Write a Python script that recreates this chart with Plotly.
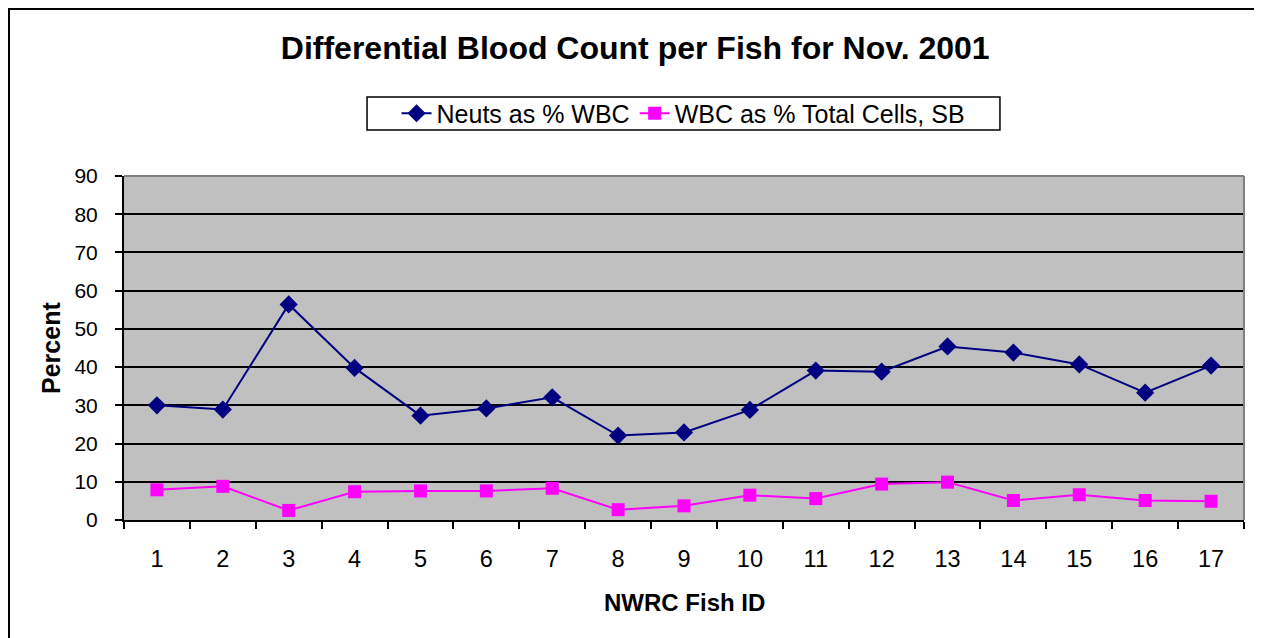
import plotly.graph_objects as go

# Fish IDs and the two series
fish_ids = [str(i) for i in range(1, 18)]
neuts_pct_wbc = [30.0, 28.9, 56.4, 39.8, 27.3, 29.2, 32.1, 22.1, 22.9, 28.8,
                 39.1, 38.8, 45.4, 43.8, 40.7, 33.3, 40.4]
wbc_pct_total = [7.9, 8.8, 2.5, 7.4, 7.6, 7.6, 8.3, 2.7, 3.7, 6.5,
                 5.6, 9.4, 9.9, 5.1, 6.6, 5.1, 4.9]

FONT = "Arial, Liberation Sans, sans-serif"

L, R, T, B = 116, 26, 168, 126
PW = 1262 - L - R
PH = 638 - T - B

fig = go.Figure()

fig.add_trace(go.Scatter(
    x=fish_ids, y=neuts_pct_wbc, mode="lines+markers",
    name="Neuts as % WBC",
    line=dict(color="#000080", width=2),
    marker=dict(symbol="diamond", size=14, color="#000080"),
))
fig.add_trace(go.Scatter(
    x=fish_ids, y=wbc_pct_total, mode="lines+markers",
    name="WBC as % Total Cells, SB",
    line=dict(color="#FF00FF", width=2),
    marker=dict(symbol="square", size=13, color="#FF00FF"),
))

fig.update_layout(
    width=1262, height=638,
    margin=dict(l=L, r=R, t=T, b=B),
    paper_bgcolor="white",
    plot_bgcolor="#C0C0C0",
    font=dict(family=FONT, size=21, color="black"),
    title=dict(text="<b>Differential Blood Count per Fish for Nov. 2001</b>",
               x=0.497, xanchor="center", y=0.937, yanchor="middle",
               font=dict(family=FONT, size=32, color="black")),
    showlegend=True,
    legend=dict(orientation="h", x=0.4996, xanchor="center",
                y=1.1817, yanchor="middle",
                borderwidth=0, bgcolor="rgba(0,0,0,0)",
                font=dict(family=FONT, size=25, color="black"),
                itemwidth=30, tracegroupgap=0),
    xaxis=dict(
        type="category", tickson="boundaries", range=[-0.5, 16.5],
        ticks="outside", ticklen=7, tickwidth=2, tickcolor="black",
        showline=True, linecolor="black", linewidth=2,
        showgrid=False, zeroline=False,
        ticklabelstandoff=17,
        tickfont=dict(family=FONT, size=23.5, color="black"),
    ),
    yaxis=dict(
        range=[0, 90], dtick=10,
        ticks="outside", ticklen=7, tickwidth=2, tickcolor="black",
        showline=True, linecolor="black", linewidth=2,
        showgrid=True, gridcolor="black", gridwidth=1.5,
        zeroline=False,
        ticklabelstandoff=13,
        tickfont=dict(family=FONT, size=21, color="black"),
    ),
    annotations=[
        dict(text="<b>NWRC Fish ID</b>", xref="paper", yref="paper",
             x=0.5, y=-0.241, xanchor="center", yanchor="middle",
             showarrow=False, font=dict(family=FONT, size=24, color="black")),
        dict(text="<b>Percent</b>", xref="paper", yref="paper",
             x=-0.0652, y=0.5, xanchor="center", yanchor="middle",
             textangle=-90, showarrow=False,
             font=dict(family=FONT, size=25, color="black")),
    ],
    shapes=[
        # gray top and right edges of the plot area
        dict(type="line", xref="paper", yref="paper", x0=0, x1=1, y0=1, y1=1,
             line=dict(color="#808080", width=2)),
        dict(type="line", xref="paper", yref="paper", x0=1, x1=1, y0=0, y1=1,
             line=dict(color="#808080", width=2)),
        # legend frame
        dict(type="rect", xref="paper", yref="paper",
             x0=0.2170, x1=0.7821, y0=1.1337, y1=1.2297,
             line=dict(color="black", width=1.5)),
        # outer chart border (left and top on the figure edge)
        dict(type="rect", xref="paper", yref="paper",
             x0=-L / PW, x1=1.05, y0=-0.5, y1=1 + T / PH,
             line=dict(color="black", width=4)),
    ],
)

fig.write_html("out.html")
